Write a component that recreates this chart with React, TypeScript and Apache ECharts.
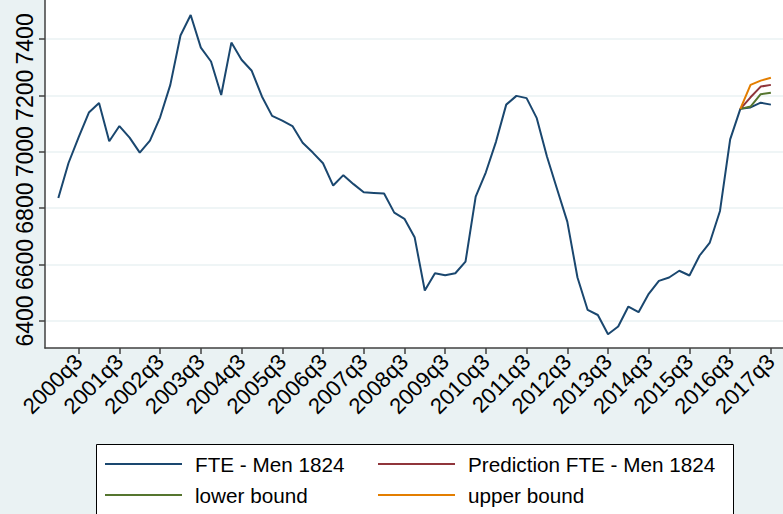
import React, { useEffect, useRef } from "react";
import * as echarts from "echarts";

// Quarters from 2000q1 (index 0) to 2017q3 (index 70)
const startYear = 2000;
const fteMen1824 = [
  6836, 6960, 7052, 7139, 7173, 7037, 7091, 7050, 6997, 7039,
  7122, 7237, 7412, 7485, 7369, 7320, 7201, 7387, 7326, 7287,
  7196, 7127, 7110, 7091, 7032, 6997, 6959, 6880, 6917, 6885,
  6856, 6854, 6852, 6784, 6762, 6697, 6508, 6569, 6562, 6569,
  6610, 6841, 6927, 7036, 7167, 7198, 7190, 7119, 6983, 6867,
  6752, 6554, 6439, 6421, 6353, 6380, 6451, 6431, 6496, 6542,
  6554, 6578, 6561, 6632, 6678, 6790, 7044, 7152, 7157, 7174,
  7167,
];
const forecastStart = 67;
const prediction = [7152, 7193, 7231, 7237];
const lowerBound = [7152, 7160, 7204, 7209];
const upperBound = [7152, 7237, 7252, 7262];
const xTickIdx = [2, 6, 10, 14, 18, 22, 26, 30, 34, 38, 42, 46, 50, 54, 58, 62, 66, 70];
const yTicks = [6400, 6600, 6800, 7000, 7200, 7400];
const seriesNames = ["FTE - Men 1824", "Prediction FTE - Men 1824", "lower bound", "upper bound"];
const colors = ["#1a476f", "#90353b", "#55752f", "#e37e00"];

const quarterLabel = (i: number) => {
  const y = startYear + Math.floor(i / 4);
  const q = (i % 4) + 1;
  return `${y}q${q}`;
};

export default function App() {
  const ref = useRef<HTMLDivElement>(null);
  useEffect(() => {
    if (!ref.current) return;
    const chart = echarts.init(ref.current, undefined, { renderer: "svg" });
    const font = "'Liberation Sans', Arial, sans-serif";
    const mainData = fteMen1824.map((v, i) => [i, v]);
    const fc = (arr: number[]) => arr.map((v, k) => [forecastStart + k, v]);
    const legendPos = [
      { left: 105, top: 452 },
      { left: 378, top: 452 },
      { left: 105, top: 483 },
      { left: 378, top: 483 },
    ];
    chart.setOption({
      animation: false,
      backgroundColor: "#eaf2f3",
      textStyle: { fontFamily: font },
      grid: {
        left: 45,
        top: 0,
        width: 738,
        height: 348,
        show: true,
        backgroundColor: "#ffffff",
        borderWidth: 0,
      },
      graphic: [
        {
          type: "rect",
          shape: { x: 96.5, y: 444.5, width: 637, height: 90 },
          style: { fill: "#ffffff", stroke: "#000000", lineWidth: 1 },
          z: 0,
        },
      ],
      legend: seriesNames.map((name, k) => ({
        data: [name],
        left: legendPos[k].left,
        top: legendPos[k].top,
        icon: "rect",
        itemWidth: 77,
        itemHeight: 2,
        padding: 0,
        z: 10,
        textStyle: {
          fontFamily: font,
          fontSize: 20.7,
          color: "#000",
          lineHeight: 24,
          padding: [0, 0, 0, 8],
        },
      })),
      xAxis: {
        type: "value",
        min: -1.31,
        max: 71.19,
        axisLine: { show: true, onZero: false, lineStyle: { color: "#404040", width: 1.5 } },
        axisTick: {
          show: true,
          length: 6,
          customValues: xTickIdx,
          lineStyle: { color: "#404040", width: 1.5 },
        },
        axisLabel: {
          customValues: xTickIdx,
          rotate: 45,
          margin: 10,
          fontSize: 22,
          fontFamily: font,
          color: "#000",
          hideOverlap: false,
          formatter: (v: number) => quarterLabel(Math.round(v)),
        },
        splitLine: { show: false },
      },
      yAxis: {
        type: "value",
        min: 6304,
        max: 7538,
        axisLine: { show: true, onZero: false, lineStyle: { color: "#404040", width: 1.5 } },
        axisTick: {
          show: true,
          length: 6,
          customValues: yTicks,
          lineStyle: { color: "#404040", width: 1.5 },
        },
        axisLabel: {
          customValues: yTicks,
          rotate: 90,
          margin: 9,
          fontSize: 23,
          fontFamily: font,
          color: "#000",
          hideOverlap: false,
          formatter: (v: number) => String(v),
        },
        splitLine: { show: true, lineStyle: { color: "#eaf2f3", width: 1.5 } },
      },
      series: [
        { name: seriesNames[0], data: mainData },
        { name: seriesNames[1], data: fc(prediction) },
        { name: seriesNames[2], data: fc(lowerBound) },
        { name: seriesNames[3], data: fc(upperBound) },
      ].map((s, k) => ({
        ...s,
        type: "line",
        symbol: "none",
        color: colors[k],
        lineStyle: { color: colors[k], width: 2 },
        z: k === 0 ? 2 : 3,
      })),
    });
    return () => chart.dispose();
  }, []);
  return (
    <div
      ref={ref}
      style={{ position: "fixed", left: 0, top: 0, width: 783, height: 514 }}
    />
  );
}
